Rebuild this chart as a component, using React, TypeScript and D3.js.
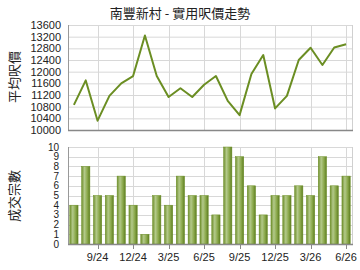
import * as d3 from 'd3';
import { useEffect, useRef } from 'react';

const months = ['7/24','8/24','9/24','10/24','11/24','12/24','1/25','2/25','3/25','4/25','5/25','6/25','7/25','8/25','9/25','10/25','11/25','12/25','1/26','2/26','3/26','4/26','5/26','6/26'];
const prices = [10860,11700,10320,11170,11600,11850,13240,11850,11130,11430,11130,11550,11850,11000,10510,11920,12570,10740,11170,12400,12820,12230,12830,12940];
const counts = [4,8,5,5,7,4,1,5,4,7,5,5,3,10,9,6,3,5,5,6,5,9,6,7];
const priceTicks = [10000,10400,10800,11200,11600,12000,12400,12800,13200,13600];
const countTicks = [0,1,2,3,4,5,6,7,8,9,10];
const xLabels = ['9/24','12/24','3/25','6/25','9/25','12/25','3/26','6/26'];

const draw = (node: SVGSVGElement) => {
  const svg = d3.select(node);
  svg.selectAll('*').remove();
  const font = 'Liberation Sans, Arial, sans-serif';
  const cjk = 'Noto Sans CJK TC, sans-serif';
  const left = 68, right = 352;

  const defs = svg.append('defs');
  const grad = defs.append('linearGradient').attr('id', 'barg').attr('x1', 0).attr('x2', 1).attr('y1', 0).attr('y2', 0);
  grad.append('stop').attr('offset', '0%').attr('stop-color', '#6f8f2c');
  grad.append('stop').attr('offset', '35%').attr('stop-color', '#b3c98a');
  grad.append('stop').attr('offset', '70%').attr('stop-color', '#8aa84a');
  grad.append('stop').attr('offset', '100%').attr('stop-color', '#5d7d22');

  svg.append('text').attr('x', 180).attr('y', 18).attr('text-anchor', 'middle')
    .attr('font-family', cjk).attr('font-size', 13).attr('fill', '#222')
    .text('南豐新村 - 實用呎價走勢');

  const x = d3.scaleBand().domain(months).range([left, right]).paddingInner(0.3).paddingOuter(0.15);
  const xc = (m: string) => (x(m) as number) + x.bandwidth() / 2;

  // top chart - price line
  const yTop = d3.scaleLinear().domain([10000, 13600]).range([130, 25]);
  const gTop = svg.append('g');
  gTop.append('g').selectAll('line').data(priceTicks).join('line')
    .attr('x1', left).attr('x2', right).attr('y1', d => yTop(d) + 0.5).attr('y2', d => yTop(d) + 0.5)
    .attr('stroke', '#d8d8d8');
  gTop.append('g').selectAll('line').data(xLabels).join('line')
    .attr('x1', d => Math.round(xc(d)) + 0.5).attr('x2', d => Math.round(xc(d)) + 0.5)
    .attr('y1', 25).attr('y2', 130).attr('stroke', '#d8d8d8');
  gTop.append('line').attr('x1', right + 0.5).attr('x2', right + 0.5).attr('y1', 25).attr('y2', 130).attr('stroke', '#d0d0d0');
  gTop.append('g').selectAll('text').data(priceTicks).join('text')
    .attr('x', 61).attr('y', d => yTop(d) + 4).attr('text-anchor', 'end')
    .attr('font-family', font).attr('font-size', 11).attr('fill', '#222').text(d => d);
  gTop.append('path').datum(prices)
    .attr('d', d3.line<number>().x((_, i) => xc(months[i])).y(d => yTop(d)))
    .attr('fill', 'none').attr('stroke', '#6b8e23').attr('stroke-width', 2).attr('stroke-linejoin', 'round');
  gTop.append('line').attr('x1', left + 0.5).attr('x2', left + 0.5).attr('y1', 25).attr('y2', 131).attr('stroke', '#999');
  gTop.append('line').attr('x1', left).attr('x2', right + 1).attr('y1', 130.5).attr('y2', 130.5).attr('stroke', '#888').attr('stroke-width', 1.5);
  gTop.append('text').attr('transform', 'translate(19,77) rotate(-90)').attr('text-anchor', 'middle')
    .attr('font-family', cjk).attr('font-size', 13).attr('fill', '#222').text('平均呎價');

  // bottom chart - counts
  const yBot = d3.scaleLinear().domain([0, 10]).range([244, 147]);
  const gBot = svg.append('g');
  gBot.append('g').selectAll('line').data(countTicks).join('line')
    .attr('x1', left).attr('x2', right).attr('y1', d => Math.round(yBot(d)) + 0.5).attr('y2', d => Math.round(yBot(d)) + 0.5)
    .attr('stroke', '#d8d8d8');
  gBot.append('g').selectAll('line').data(xLabels).join('line')
    .attr('x1', d => Math.round(xc(d)) + 0.5).attr('x2', d => Math.round(xc(d)) + 0.5)
    .attr('y1', 147).attr('y2', 244).attr('stroke', '#d8d8d8');
  gBot.append('line').attr('x1', right + 0.5).attr('x2', right + 0.5).attr('y1', 147).attr('y2', 244).attr('stroke', '#d0d0d0');
  gBot.append('g').selectAll('rect').data(counts).join('rect')
    .attr('x', (_, i) => x(months[i]) as number).attr('width', x.bandwidth())
    .attr('y', d => yBot(d)).attr('height', d => yBot(0) - yBot(d))
    .attr('fill', 'url(#barg)').attr('stroke', '#6b8e23').attr('stroke-width', 0.5);
  gBot.append('g').selectAll('text').data(countTicks).join('text')
    .attr('x', 59).attr('y', d => yBot(d) + 3.5).attr('text-anchor', 'end')
    .attr('font-family', font).attr('font-size', 10).attr('fill', '#222').text(d => d);
  gBot.append('line').attr('x1', left + 0.5).attr('x2', left + 0.5).attr('y1', 147).attr('y2', 245).attr('stroke', '#999');
  gBot.append('line').attr('x1', left).attr('x2', right + 1).attr('y1', 244.5).attr('y2', 244.5).attr('stroke', '#888').attr('stroke-width', 1.5);
  gBot.append('g').selectAll('line').data(xLabels).join('line')
    .attr('x1', d => Math.round(xc(d)) + 0.5).attr('x2', d => Math.round(xc(d)) + 0.5)
    .attr('y1', 245).attr('y2', 249).attr('stroke', '#888');
  gBot.append('g').selectAll('text').data(xLabels).join('text')
    .attr('x', d => xc(d)).attr('y', 261).attr('text-anchor', 'middle')
    .attr('font-family', font).attr('font-size', 11).attr('fill', '#222').text(d => d);
  gBot.append('text').attr('transform', 'translate(19,196) rotate(-90)').attr('text-anchor', 'middle')
    .attr('font-family', cjk).attr('font-size', 13).attr('fill', '#222').text('成交宗數');
};

export default function App() {
  const ref = useRef<SVGSVGElement>(null);
  useEffect(() => {
    if (ref.current) draw(ref.current);
  }, []);
  return (
    <svg ref={ref} width={360} height={270}
      style={{ position: 'absolute', left: 0, top: 0, background: '#fff' }} />
  );
}
